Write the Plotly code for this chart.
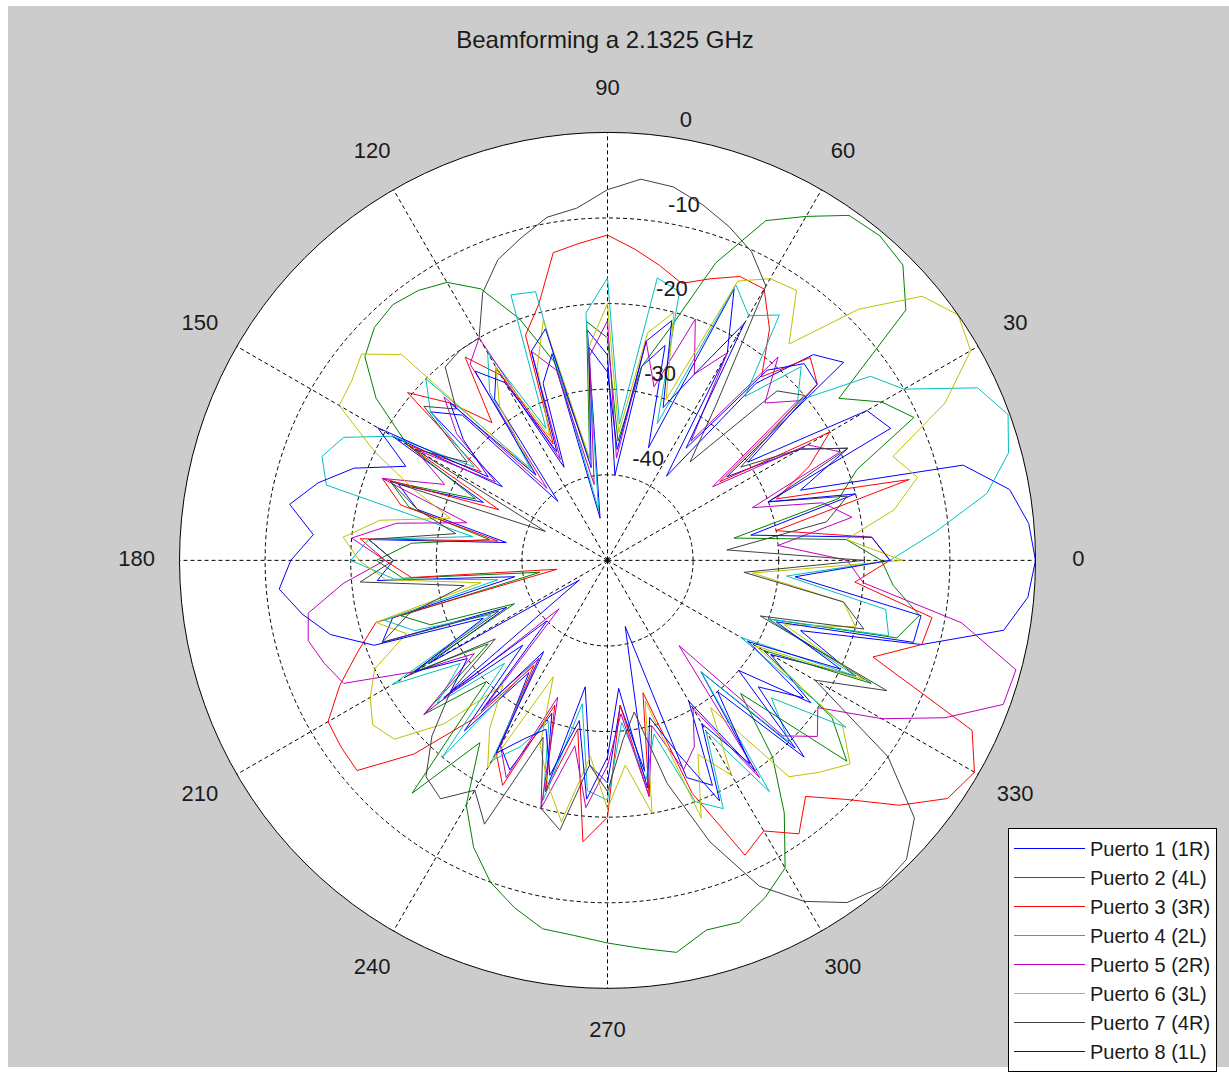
import plotly.graph_objects as go

# Sampling angles (degrees) shared by every port pattern
angles = list(range(0, 360, 5))

# Measured gain (dB) per port, one value every 5 degrees from 0 to 355
puerto_1 = [0, -0.6, -2.3, -7, -26, -19, -24, -33, -14, -16, -23, -38,
            -22, -15, -36, -24, -27, -40, -26, -23, -45, -25, -28, -38,
            -24, -27, -41, -26, -23, -35, -21, -34, -24, -27, -38, -22,
            -25, -23, -39, -24, -22, -37, -26, -46, -25, -36, -24, -34,
            -25, -23, -31, -22, -35, -26, -24, -33, -25, -42, -23, -21,
            -31, -20, -33, -19, -30, -21, -28, -18, -26, -12, -3, -0.7]

puerto_2 = [-18, -22, -35, -22, -19, -10.5, -13, -17, -4.5, -1.2, -0.5, -0.8,
            -3.6, -6.2, -13, -22, -27, -36, -24, -22, -38, -26, -20, -15,
            -12.5, -11.5, -11, -11.5, -13, -17, -23, -33, -23, -26, -36, -27,
            -23, -26, -42, -25, -28, -38, -24, -33, -22, -30, -14.5, -24,
            -17, -13, -10, -8, -6.3, -6, -5.3, -4.5, -3.5, -5.3, -5, -6.5,
            -8.5, -14, -20, -28, -13.5, -18, -29, -16, -30, -15, -13, -16.5]

puerto_3 = [-17, -19, -30, -13.5, -29, -24, -20, -34, -18, -16.5, -22, -17,
            -13.4, -13.4, -15, -16.5, -15, -13.5, -12, -12.8, -13.5, -19, -22, -35,
            -25, -21, -29, -24, -19.5, -32, -23, -36, -22, -25, -37, -21,
            -24, -27, -44, -22, -19, -15.5, -12.3, -12, -11.8, -18, -26, -35,
            -24, -21, -32, -22, -30, -17, -20, -33, -22, -34, -21, -12,
            -13.5, -11, -14, -10.5, -5.5, -1.5, -0.5, -3, -17, -12, -11.5, -21]

puerto_4 = [-17, -11.5, -5, -1.5, -0.2, -2.3, -10, -12.5, -21, -18, -25, -15,
            -17, -14.5, -33, -17.5, -16.5, -34, -17, -21, -44, -17.5, -17, -33,
            -22, -26, -36, -20, -23, -31, -21, -16, -14.5, -16, -34, -22,
            -20, -25, -37, -23, -26, -35, -21, -29, -24, -33, -20, -36,
            -23, -26, -30, -21, -33, -23, -22, -31, -24, -29, -20, -18,
            -27, -17, -33, -20, -25, -16, -32, -18, -30, -16, -17, -29]

puerto_5 = [-22, -30, -21, -24, -32, -20, -23, -35, -21, -24, -19, -33,
            -22, -26, -20, -29, -24, -38, -22, -26, -41, -27, -24, -37,
            -20, -22, -39, -23, -27, -34, -24, -29, -22, -33, -25, -20,
            -24, -19, -14.5, -13.8, -14.8, -16, -24, -31, -22, -42, -28, -36,
            -25, -22, -33, -20, -28, -21, -26, -32, -22, -30, -24, -26,
            -30, -19, -37, -21, -18, -20, -13, -6.5, -0.8, -0.6, -8, -20]

puerto_6 = [-15.5, -22, -16, -12.5, -14.5, -6.5, -1, 0, -2, -8.5, -17, -11.5,
            -12, -14, -30, -20, -23, -35, -20, -25, -38, -21, -26, -34,
            -24, -28, -37, -16, -12.5, -13.5, -13.8, -20, -26, -31, -23, -19,
            -21, -24, -35, -22, -25, -20, -18, -16.5, -17.5, -23, -31, -26,
            -22, -35, -27, -23, -19, -27, -21, -26, -20, -33, -18, -25,
            -21, -29, -17, -15, -13, -16.5, -30, -17, -28, -20, -22, -33]

puerto_7 = [-20, -36, -24, -21, -30, -19, -24, -31, -20, -22, -35, -28,
            -13, -10.2, -8.5, -7, -5.7, -5.3, -6.7, -8.7, -9.3, -11, -12.6, -15.5,
            -20, -20, -20.5, -25, -22, -30, -24, -42, -23, -27, -32, -22,
            -25, -21, -33, -26, -22, -36, -23, -34, -26, -21, -17, -16,
            -19, -16, -28, -20, -18, -26, -23, -29, -32, -23, -15, -8,
            -4, -1.2, -0.2, -0.6, -3.2, -10, -22, -14, -31, -19, -22, -34]

puerto_8 = [-17, -19, -33, -20, -30, -13.5, -15, -30, -18, -17.5, -21, -34,
            -18, -26, -31, -21, -24, -37, -28, -25, -39, -22, -24, -36,
            -26, -23, -37, -24, -28, -33, -19, -24, -18.5, -15, -12.3, -15.5,
            -13, -11.5, -13.8, -16.5, -21, -34, -24, -30, -26, -40, -27, -37,
            -24, -27, -29, -24, -31, -22, -27, -35, -23, -31, -26, -19,
            -28, -21, -30, -17.5, -27, -22, -31, -20, -29, -13, -12.8, -28]

series_names = ["Puerto 1 (1R)", "Puerto 2 (4L)", "Puerto 3 (3R)", "Puerto 4 (2L)",
                "Puerto 5 (2R)", "Puerto 6 (3L)", "Puerto 7 (4R)", "Puerto 8 (1L)"]
series_values = [puerto_1, puerto_2, puerto_3, puerto_4,
                 puerto_5, puerto_6, puerto_7, puerto_8]
series_colors = ["#0000ff", "#008000", "#ff0000", "#00bfbf",
                 "#bf00bf", "#bfbf00", "#404040", "#0000ff"]

# Axis annotations
radial_rings = [-40, -30, -20, -10, 0]
angle_ticks = list(range(0, 360, 30))

FONT = "Liberation Sans, Arial, Helvetica, sans-serif"
R_MIN, R_MAX = -50, 0

fig = go.Figure()

for name, vals, col in zip(series_names, series_values, series_colors):
    fig.add_trace(go.Scatterpolar(
        r=vals + vals[:1],
        theta=angles + angles[:1],
        mode="lines",
        name=name,
        legendgroup=name,
        line=dict(color=col, width=1),
        subplot="polar",
    ))

# Angle labels, centred on a ring 10 % outside the plot edge
fig.add_trace(go.Scatterpolar(
    r=[5] * len(angle_ticks),
    theta=angle_ticks,
    mode="text",
    text=[str(a) for a in angle_ticks],
    textfont=dict(family=FONT, size=22, color="#1a1a1a"),
    textposition="middle center",
    cliponaxis=False,
    showlegend=False,
    hoverinfo="skip",
    subplot="polar2",
))

# Ring labels placed along the 82 degree ray
fig.add_trace(go.Scatterpolar(
    r=[v + 0.5 for v in radial_rings],
    theta=[82] * len(radial_rings),
    mode="text",
    text=["\u00a0\u00a0" + str(v) for v in radial_rings],
    textfont=dict(family=FONT, size=22, color="#1a1a1a"),
    textposition="top right",
    cliponaxis=False,
    showlegend=False,
    hoverinfo="skip",
    subplot="polar2",
))

W, H = 1229, 1072
cx, cy, rad = 607.5, 563.0, 430.0
rad2 = rad * 55.0 / 50.0

fig.update_layout(
    width=W, height=H,
    margin=dict(l=0, r=0, t=0, b=0),
    paper_bgcolor="white",
    plot_bgcolor="white",
    font=dict(family=FONT, color="#1a1a1a"),
    title=dict(text="Beamforming a 2.1325 GHz",
               x=605 / W, y=1 - 40 / H, xanchor="center", yanchor="middle",
               font=dict(family=FONT, size=24, color="#1a1a1a")),
    polar=dict(
        domain=dict(x=[(cx - rad) / W, (cx + rad) / W],
                    y=[(H - cy - rad) / H, (H - cy + rad) / H]),
        bgcolor="white",
        radialaxis=dict(range=[R_MIN, R_MAX], tickvals=radial_rings[:-1],
                        showticklabels=False, ticks="", showline=False,
                        showgrid=True, gridcolor="black", gridwidth=1,
                        griddash="4px,3px"),
        angularaxis=dict(direction="counterclockwise", rotation=0,
                         tickmode="array", tickvals=angle_ticks,
                         showticklabels=False, ticks="",
                         showline=True, linecolor="black", linewidth=1,
                         showgrid=True, gridcolor="black", gridwidth=1,
                         griddash="4px,3px"),
    ),
    polar2=dict(
        domain=dict(x=[(cx - rad2) / W, (cx + rad2) / W],
                    y=[(H - cy - rad2) / H, (H - cy + rad2) / H]),
        bgcolor="rgba(0,0,0,0)",
        radialaxis=dict(range=[R_MIN, 5], visible=False),
        angularaxis=dict(direction="counterclockwise", rotation=0, visible=False),
    ),
    legend=dict(
        x=1008 / W, y=1 - 832 / H, xanchor="left", yanchor="top",
        bgcolor="white", bordercolor="black", borderwidth=1,
        font=dict(family=FONT, size=20, color="#1a1a1a"),
        itemwidth=71, tracegroupgap=0,
    ),
    shapes=[dict(type="rect", xref="paper", yref="paper",
                 x0=8 / W, x1=1, y0=0, y1=1 - 6 / H,
                 fillcolor="#cccccc", line=dict(width=0), layer="below")],
)

fig.write_html("out.html")
